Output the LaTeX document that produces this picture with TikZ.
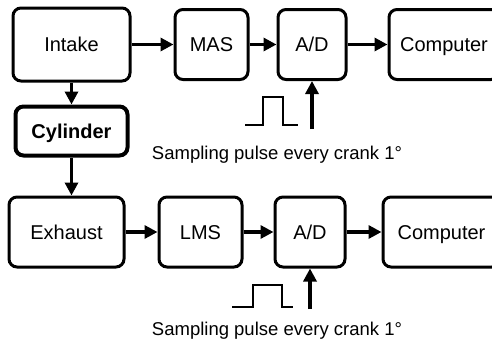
\documentclass[tikz,border=0pt]{standalone}
\usepackage{fontspec}
\setmainfont{Liberation Sans}
\usetikzlibrary{arrows.meta,positioning}

\tikzset{
  block/.style={draw, line width=3pt, rounded corners=8pt, minimum height=70pt,
    inner sep=0pt, text height=14.5pt, text depth=0pt, font=\fontsize{20}{24}\selectfont},
  arr/.style={line width=3.2pt, -{Triangle[length=13pt,width=13pt]}},
  pulse/.style={line width=2.2pt},
  note/.style={font=\fontsize{18.5}{22}\selectfont}
}

\begin{document}
\begin{tikzpicture}[x=1pt, y=-1pt]
  \useasboundingbox (0,0) rectangle (492,351);
  \node[block, minimum width=117pt, minimum height=73pt] (intake) at (71.5,44.5) {Intake};
  \node[block, minimum width=73pt, right=42pt of intake] (mas) {MAS};
  \node[block, minimum width=68pt, right=27pt of mas] (ad1) {A/D};
  \node[block, minimum width=110pt, right=40pt of ad1] (comp1) {Computer};
  \node[block, line width=4pt, minimum width=112pt, minimum height=49pt,
    below=22pt of intake, font=\fontsize{20}{24}\selectfont\bfseries] (cyl) {Cylinder};
  \node[block, minimum width=115pt, below=38pt of cyl, xshift=-5pt] (exhaust) {Exhaust};
  \node[block, minimum width=83pt, right=32pt of exhaust] (lms) {LMS};
  \node[block, minimum width=70pt, right=30pt of lms] (ad2) {A/D};
  \node[block, minimum width=117pt, right=35pt of ad2] (comp2) {Computer};

  \draw[arr] (intake) -- (mas);
  \draw[arr] (mas) -- (ad1);
  \draw[arr] (ad1) -- (comp1);
  \draw[arr] (intake) -- (cyl);
  \draw[arr] (cyl) -- (exhaust.north -| cyl.south);
  \draw[arr] (exhaust) -- (lms);
  \draw[arr] (lms) -- (ad2);
  \draw[arr] (ad2) -- (comp2);

  \coordinate (t1) at (ad1.south |- 0,129);
  \coordinate (t2) at (ad2.south |- 0,309);
  \draw[arr] (t1) -- (ad1.south);
  \draw[arr] (t2) -- (ad2.south);
  \draw[pulse] (245,125) -| (263,97) -| (283,125) -- (298,125);
  \draw[pulse] (232,307) -| (253,285) -| (282,307) -- (293,307);

  \node[note] (s1) at (277,155) {Sampling pulse every crank 1°};
  \node[note] (s2) at (277,331) {Sampling pulse every crank 1°};
\end{tikzpicture}
\end{document}
